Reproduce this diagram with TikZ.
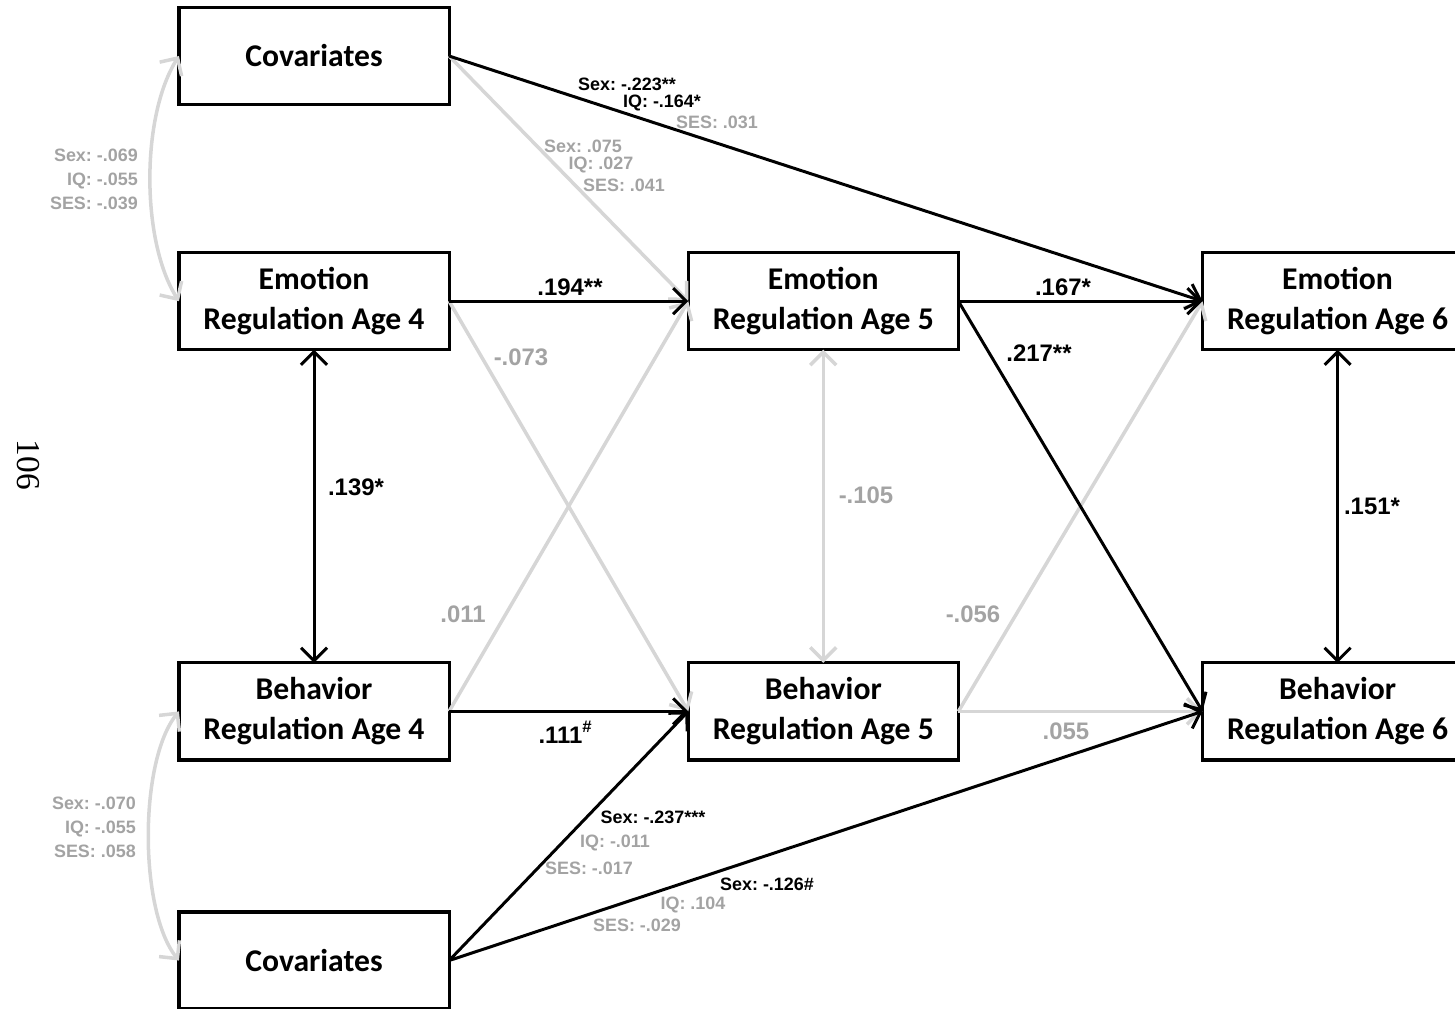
\documentclass[tikz,border=0pt]{standalone}
\usepackage{fontspec}
\setmainfont{Liberation Serif}
\setsansfont{Liberation Sans}
\newfontfamily\boxfont{Carlito}
\usetikzlibrary{arrows.meta,positioning}
\definecolor{lightline}{RGB}{214,214,214}
\definecolor{greytext}{RGB}{163,163,163}
\def\gry{greytext}

\begin{document}
\frenchspacing
\begin{tikzpicture}[x=0.01cm,y=-0.01cm,>={Straight Barb[length=1.3mm,width=2.6mm]},
  line width=0.85pt,
  var node/.style={draw,line width=0.9pt,outer sep=0pt,minimum width=2.7cm,minimum height=0.97cm,
    align=center,font=\boxfont\bfseries\fontsize{9}{11.4}\selectfont},
  coef/.style={font=\sffamily\bfseries\fontsize{6.8}{8}\selectfont},
  cov/.style={font=\sffamily\bfseries\fontsize{5.1}{6.8}\selectfont},
  weak/.style={lightline,line width=1pt},
  strong/.style={black}]
  \useasboundingbox (0,0) rectangle (1455,1008);

  \node[var node] (cov1) at (314,56) {Covariates};
  \node[var node] (er4) [below=1.48cm of cov1] {Emotion\\Regulation Age 4};
  \node[var node] (br4) [below=3.13cm of er4] {Behavior\\Regulation Age 4};
  \node[var node] (cov2) [below=1.52cm of br4] {Covariates};
  \node[var node] (er5) [right=2.39cm of er4] {Emotion\\Regulation Age 5};
  \node[var node] (br5) [right=2.39cm of br4] {Behavior\\Regulation Age 5};
  \node[var node] (er6) [right=2.44cm of er5] {Emotion\\Regulation Age 6};
  \node[var node] (br6) [right=2.44cm of br5] {Behavior\\Regulation Age 6};

  \path[->,weak]
    (cov1.east) edge (er5.west)
    (er4.east) edge (br5.west)
    (br4.east) edge (er5.west)
    (br5.east) edge (er6.west)
               edge (br6.west);
  \path[<->,weak] (er5) edge (br5);
  \draw[<->,weak] (cov1.west) .. controls +(-38,60) and +(-38,-60) .. (er4.west);
  \draw[<->,weak] (br4.west) .. controls +(-40,50) and +(-40,-50) .. (cov2.west);

  \path[->,strong]
    (cov1.east) edge (er6.west)
    (er4.east) edge (er5.west)
    (br4.east) edge (br5.west)
    (er5.east) edge (er6.west)
               edge (br6.west)
    (cov2.east) edge (br5.west)
                edge (br6.west);
  \path[<->,strong]
    (er4) edge (br4)
    (er6) edge (br6);

  \node[coef] (p194) at (570,287) {.194**};
  \node[coef] (p111) at (566,732) {.111\textsuperscript{\#}};
  \node[coef] (p139) at (356,487) {.139*};
  \node[coef] (p167) at (1063,287) {.167*};
  \node[coef] (p217) at (1039,353) {.217**};
  \node[coef] (p151) at (1372,506) {.151*};
  \node[coef,\gry] (p073) at (521,357) {-.073};
  \node[coef,\gry] (p011) at (463,614) {.011};
  \node[coef,\gry] (p105) at (866,495) {-.105};
  \node[coef,\gry] (p056) at (973,614) {-.056};
  \node[coef,\gry] (p055) at (1066,731) {.055};

  \node[cov] (s1) at (627,84) {Sex: -.223**};
  \node[cov] (q1) at (662,103) {IQ: -.164*};
  \node[cov,\gry] (e1) at (717,122) {SES: .031};
  \node[cov,\gry] (s2) at (583,146) {Sex: .075};
  \node[cov,\gry] (q2) at (601,165) {IQ: .027};
  \node[cov,\gry] (e2) at (624,185) {SES: .041};
  \node[cov] (s3) at (653,817) {Sex: -.237***};
  \node[cov,\gry] (q3) at (615,843) {IQ: -.011};
  \node[cov,\gry] (e3) at (589,868) {SES: -.017};
  \node[cov] (s4) at (767,884) {Sex: -.126\#};
  \node[cov,\gry] (q4) at (693,905) {IQ: .104};
  \node[cov,\gry] (e4) at (637,925) {SES: -.029};
  \node[cov,\gry,anchor=east,align=right] (c1) at (151,179) {Sex: -.069\\IQ: -.055\\SES: -.039};
  \node[cov,\gry,anchor=east,align=right] (c2) at (149,827) {Sex: -.070\\IQ: -.055\\SES: .058};

  \node[rotate=-90,font=\fontsize{9.5}{11}\selectfont] (page) at (28,465) {106};
\end{tikzpicture}
\end{document}
